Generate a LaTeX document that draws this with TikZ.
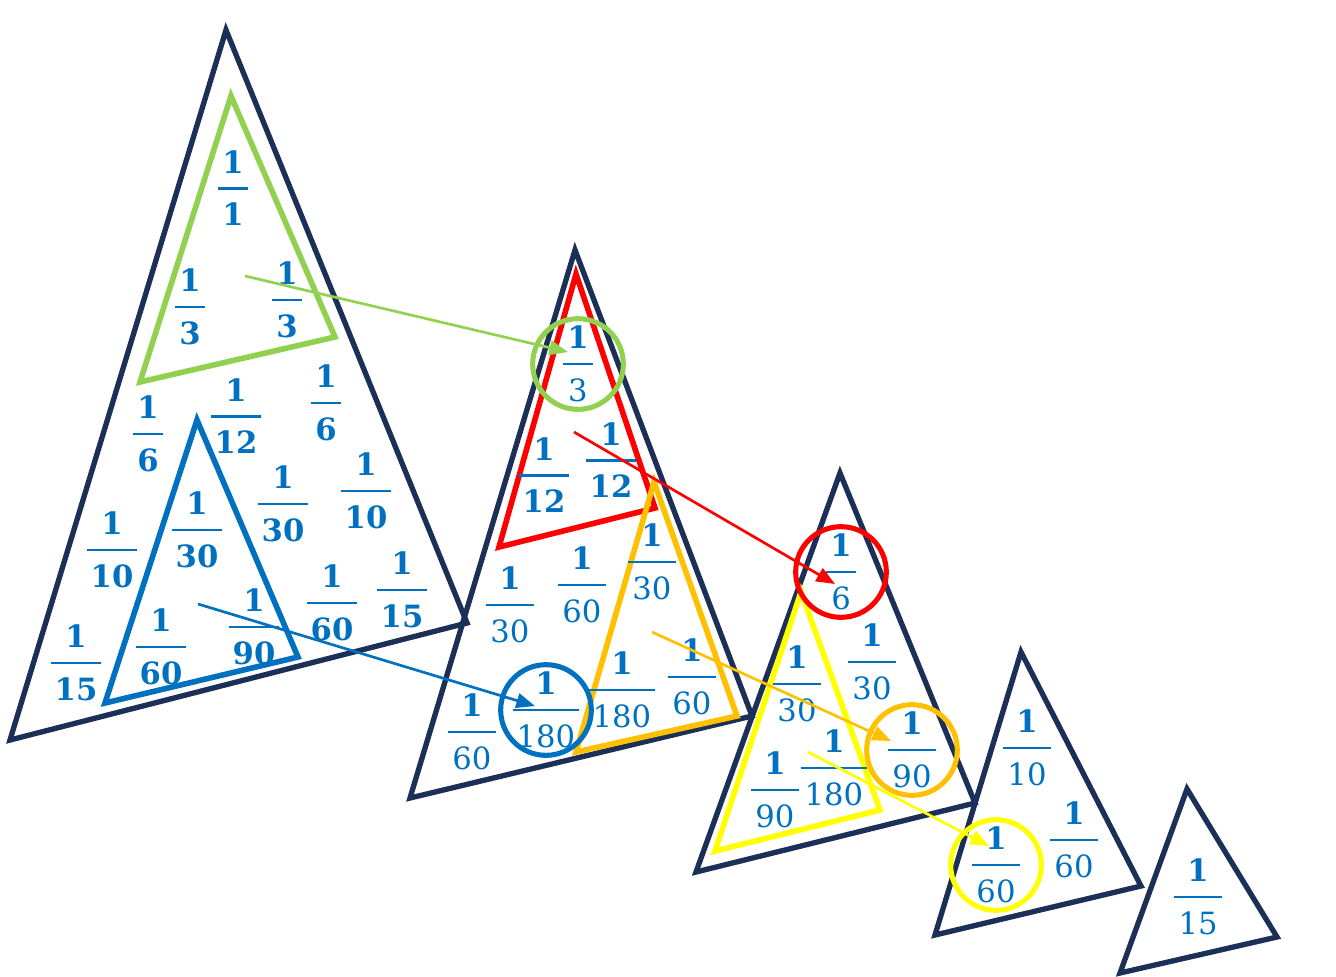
\documentclass[tikz,border=0pt]{standalone}
\usepackage{fontspec}
\setmainfont{DejaVu Serif}
\usetikzlibrary{arrows.meta}
\definecolor{navy}{HTML}{1C2F57}
\definecolor{txtblue}{HTML}{0070C0}
\definecolor{cgreen}{HTML}{92D050}
\definecolor{cred}{HTML}{FF0000}
\definecolor{corange}{HTML}{FFC000}
\definecolor{cyellow}{HTML}{FFFF00}
\definecolor{cblue}{HTML}{0070C0}
\newcommand{\fr}[2]{{\renewcommand{\arraystretch}{0}\setlength{\arrayrulewidth}{1.8pt}%
\begin{tabular}{@{\hspace{3pt}}c@{\hspace{3pt}}}%
\rule{0pt}{16.5pt}#1\rule[-10.5pt]{0pt}{0pt}\\\hline
\rule{0pt}{27pt}#2\end{tabular}}}
\newcommand{\fb}[1]{\fr{\bfseries 1}{\bfseries #1}}
\newcommand{\fn}[1]{\fr{\bfseries 1}{#1}}
\begin{document}
\begin{tikzpicture}[x=0.75pt,y=-0.75pt,
  tri/.style={line width=4pt,line join=miter},
  ctri/.style={line width=4.2pt,line join=miter},
  ring/.style={line width=3.8pt},
  lab/.style={inner sep=0pt,text=txtblue,font=\fontsize{23}{27}\selectfont},
  arr/.style={line width=2pt,-{Triangle[length=14pt,width=11pt]}}]
\useasboundingbox (0,0) rectangle (1336,976);
% navy triangles
\draw[tri,navy] (226,30) -- (10,740) -- (467,623) -- cycle;
\draw[tri,navy] (575,250) -- (410,798) -- (752,716) -- cycle;
\draw[tri,navy] (840,473) -- (696,872) -- (975,803) -- cycle;
\draw[tri,navy] (1021,652) -- (935,935) -- (1141,886) -- cycle;
\draw[tri,navy] (1187,789) -- (1120,973) -- (1277,937) -- cycle;
% coloured triangles
\draw[ctri,cgreen] (231,96) -- (140,382) -- (335,337) -- cycle;
\draw[ctri,cblue] (197,420) -- (105,703) -- (298,657) -- cycle;
\draw[ctri,cred] (576,274) -- (499,547) -- (655,508) -- cycle;
\draw[ctri,corange] (654,482) -- (576,752) -- (737,716) -- cycle;
\draw[ctri,cyellow] (801,592) -- (715,851) -- (880,810) -- cycle;
% labels T1
\node[lab] (a1) at (233,188) {\fb{1}};
\node[lab] (a2) at (190,307) {\fb{3}};
\node[lab] (a3) at (287,300) {\fb{3}};
\node[lab] (a4) at (148,434) {\fb{6}};
\node[lab] (a5) at (236,416) {\fb{12}};
\node[lab] (a6) at (326,403) {\fb{6}};
\node[lab] (a7) at (197,530) {\fb{30}};
\node[lab] (a8) at (283,504) {\fb{30}};
\node[lab] (a9) at (366,491) {\fb{10}};
\node[lab] (a10) at (112,550) {\fb{10}};
\node[lab] (a11) at (161,647) {\fb{60}};
\node[lab] (a12) at (254,627) {\fb{90}};
\node[lab] (a13) at (332,603) {\fb{60}};
\node[lab] (a14) at (402,590) {\fb{15}};
\node[lab] (a15) at (76,663) {\fb{15}};
% labels T2
\node[lab] (b1) at (578,364) {\fn{3}};
\node[lab] (b2) at (544,475) {\fb{12}};
\node[lab] (b3) at (611,460) {\fb{12}};
\node[lab] (b4) at (652,562) {\fn{30}};
\node[lab] (b5) at (510,605) {\fn{30}};
\node[lab] (b6) at (582,585) {\fn{60}};
\node[lab] (b7) at (546,710) {\fn{180}};
\node[lab] (b8) at (622,690) {\fn{180}};
\node[lab] (b9) at (692,677) {\fn{60}};
\node[lab] (b10) at (472,732) {\fn{60}};
% labels T3
\node[lab] (c1) at (841,572) {\fn{6}};
\node[lab] (c2) at (872,662) {\fn{30}};
\node[lab] (c3) at (797,684) {\fn{30}};
\node[lab] (c4) at (912,750) {\fn{90}};
\node[lab] (c5) at (834,768) {\fn{180}};
\node[lab] (c6) at (775,790) {\fn{90}};
% labels T4, T5
\node[lab] (d1) at (1027,748) {\fn{10}};
\node[lab] (d2) at (996,865) {\fn{60}};
\node[lab] (d3) at (1074,840) {\fn{60}};
\node[lab] (e1) at (1198,897) {\fn{15}};
% rings
\draw[ring,cgreen] (b1) circle (34pt);
\draw[ring,cblue] (b7) circle (34pt);
\draw[ring,cred] (c1) circle (34pt);
\draw[ring,corange] (c4) circle (34pt);
\draw[ring,cyellow] (d2) circle (34pt);
% arrows
\coordinate (gs) at (245,276);
\coordinate (ge) at (568,352);
\coordinate (rs) at (574,432);
\coordinate (re) at (835,584);
\coordinate (bs) at (198,604);
\coordinate (be) at (535,706);
\coordinate (os) at (652,632);
\coordinate (oe) at (891,741);
\coordinate (ys) at (808,752);
\coordinate (ye) at (989,846);
\draw[arr,cgreen] (gs) -- (ge);
\draw[arr,cred] (rs) -- (re);
\draw[arr,cblue] (bs) -- (be);
\draw[arr,corange] (os) -- (oe);
\draw[arr,cyellow] (ys) -- (ye);
\end{tikzpicture}
\end{document}
